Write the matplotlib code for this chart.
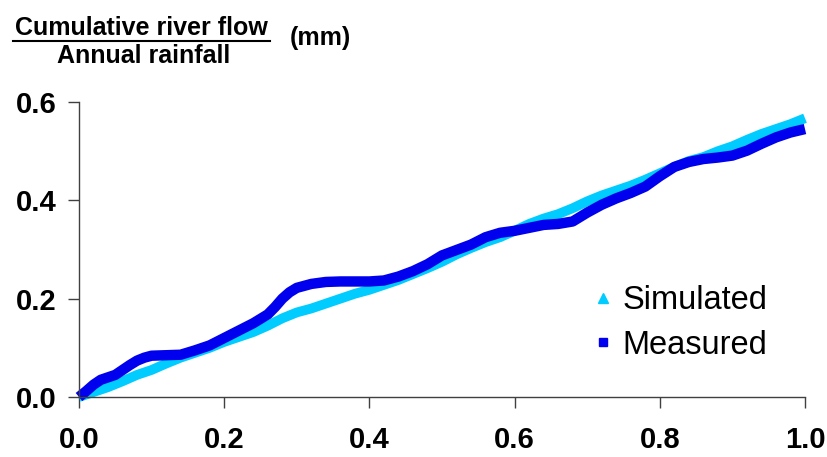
import matplotlib
matplotlib.use("Agg")
import matplotlib.pyplot as plt
from matplotlib.lines import Line2D

plt.rcParams['font.family'] = ['Liberation Sans', 'DejaVu Sans']

x_meas = [0.0, 0.01, 0.02, 0.03, 0.04, 0.05, 0.06, 0.07, 0.08, 0.09, 0.10, 0.12, 0.14,
          0.16, 0.18, 0.20, 0.22, 0.24, 0.26, 0.27, 0.28, 0.29, 0.30, 0.32, 0.34, 0.36,
          0.38, 0.40, 0.42, 0.44, 0.46, 0.48, 0.50, 0.52, 0.54, 0.56, 0.58, 0.60, 0.62,
          0.64, 0.66, 0.68, 0.70, 0.72, 0.74, 0.76, 0.78, 0.80, 0.82, 0.84, 0.86, 0.88,
          0.90, 0.92, 0.94, 0.96, 0.98, 1.00]
y_meas = [0.0, 0.012, 0.025, 0.035, 0.04, 0.045, 0.055, 0.065, 0.074, 0.08, 0.084, 0.085, 0.086,
          0.095, 0.105, 0.12, 0.135, 0.15, 0.168, 0.183, 0.2, 0.213, 0.222, 0.23, 0.234, 0.235,
          0.235, 0.235, 0.237, 0.245, 0.256, 0.27, 0.288, 0.299, 0.31, 0.325, 0.334, 0.338, 0.344,
          0.35, 0.352, 0.357, 0.375, 0.391, 0.404, 0.415, 0.428, 0.449, 0.468, 0.478, 0.484, 0.487,
          0.491, 0.501, 0.515, 0.528, 0.538, 0.545]

x_sim = [0.0, 0.02, 0.04, 0.06, 0.08, 0.10, 0.12, 0.14, 0.16, 0.18, 0.20, 0.22, 0.24, 0.26,
         0.28, 0.30, 0.32, 0.34, 0.36, 0.38, 0.40, 0.42, 0.44, 0.46, 0.48, 0.50, 0.52, 0.54,
         0.56, 0.58, 0.60, 0.62, 0.64, 0.66, 0.68, 0.70, 0.72, 0.74, 0.76, 0.78, 0.80, 0.82,
         0.84, 0.86, 0.88, 0.90, 0.92, 0.94, 0.96, 0.98, 1.00]
y_sim = [0.0, 0.01, 0.02, 0.032, 0.045, 0.055, 0.068, 0.08, 0.09, 0.10, 0.112, 0.122, 0.132, 0.145,
         0.16, 0.172, 0.18, 0.19, 0.20, 0.21, 0.218, 0.228, 0.238, 0.25, 0.262, 0.275, 0.29, 0.303,
         0.315, 0.325, 0.338, 0.352, 0.363, 0.372, 0.384, 0.398, 0.41, 0.42, 0.43, 0.442, 0.455, 0.468,
         0.48, 0.488, 0.50, 0.51, 0.523, 0.535, 0.545, 0.555, 0.567]

x_ticks = [0.0, 0.2, 0.4, 0.6, 0.8, 1.0]
y_ticks = [0.0, 0.2, 0.4, 0.6]
labels = ["Simulated", "Measured"]

c_sim = "#00CCFF"
c_meas = "#0000EE"

fig = plt.figure(figsize=(8.28, 4.57), dpi=100)
ax = fig.add_axes([79/828, 1-397/457, (805-79)/828, (397-102)/457])

ax.plot(x_sim, y_sim, color=c_sim, lw=7, solid_capstyle='butt', solid_joinstyle='round', clip_on=False)
ax.plot(x_meas, y_meas, color=c_meas, lw=7.5, solid_capstyle='butt', solid_joinstyle='round', clip_on=False)

ax.set_xlim(0, 1)
ax.set_ylim(0, 0.6)
ax.set_xticks(x_ticks)
ax.set_yticks(y_ticks)
ax.set_xticklabels([f"{v:.1f}" for v in x_ticks], fontsize=21, fontweight='bold')
ax.set_yticklabels([f"{v:.1f}" for v in y_ticks], fontsize=21, fontweight='bold')
ax.tick_params(direction='out', length=8, width=1, color='#404040', pad=8)
ax.tick_params(axis='x', pad=13)
for s in ['top', 'right']:
    ax.spines[s].set_visible(False)
for s in ['left', 'bottom']:
    ax.spines[s].set_color('#404040')
    ax.spines[s].set_linewidth(1)

handles = [Line2D([], [], marker='^', color=c_sim, ls='none', markersize=7),
           Line2D([], [], marker='s', color=c_meas, ls='none', markersize=5.5)]
ax.legend(handles, labels, loc='center left', bbox_to_anchor=((593-79)/726, 0.251),
          frameon=False, fontsize=23.5, handlelength=0.6, handletextpad=0.29,
          labelspacing=0.42, borderpad=0, borderaxespad=0)

# Title: fraction label
fig.text(141/828, 1-35/457, "Cumulative river flow", ha='center', va='baseline',
         fontsize=18, fontweight='bold')
fig.add_artist(Line2D([13/828, 270/828], [1-41/457, 1-41/457], color='black', lw=1.5))
fig.text(144/828, 1-63/457, "Annual rainfall", ha='center', va='baseline',
         fontsize=18, fontweight='bold')
fig.text(290/828, 1-45/457, "(mm)", ha='left', va='baseline',
         fontsize=18, fontweight='bold')

fig.savefig("out.png", dpi=100)
